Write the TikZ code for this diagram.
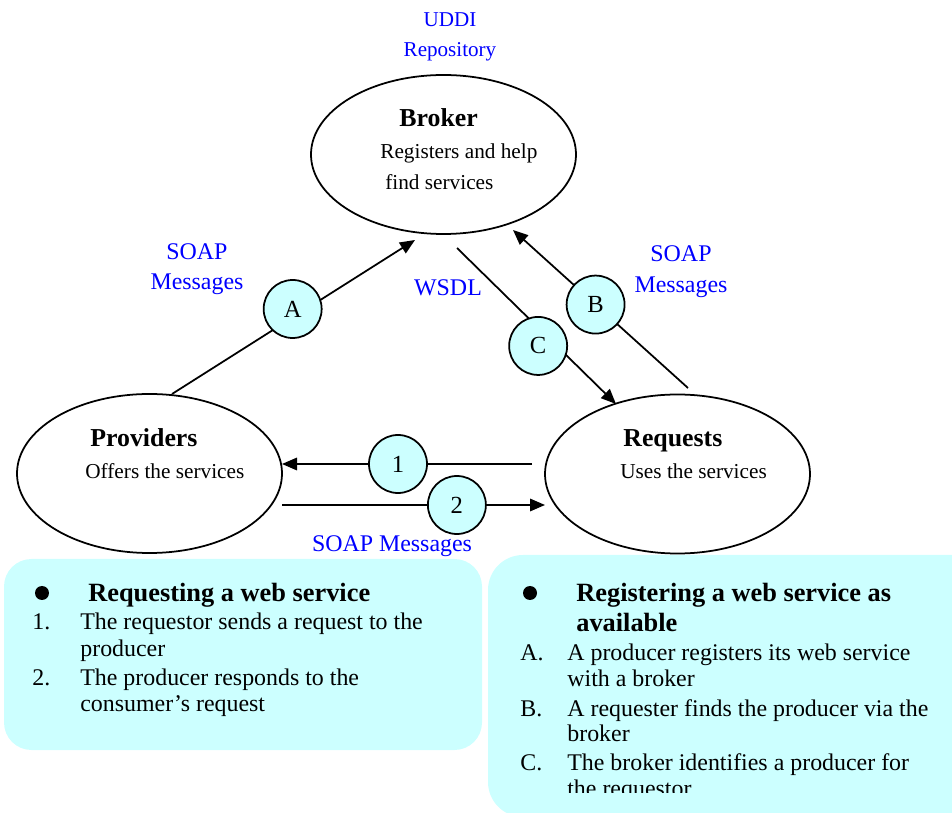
\documentclass[tikz,border=0pt]{standalone}
\usepackage{fontspec}
\setmainfont{Liberation Serif}
\usetikzlibrary{arrows.meta,shapes.geometric}
\definecolor{paleblue}{RGB}{204,255,255}

\tikzset{
  party/.style={draw, ellipse, line width=1pt, minimum width=5.3cm, minimum height=3.18cm, inner sep=0pt},
  stepmark/.style={draw, circle, fill=paleblue, line width=1pt, minimum size=1.16cm, inner sep=0pt, font=\fontsize{14}{16}\selectfont},
  flow/.style={line width=1pt, -{Triangle[length=0.3cm,width=0.25cm]}},
  msg/.style={text=blue, inner sep=0pt, font=\fontsize{13.6}{16}\selectfont},
  repo/.style={text=blue, inner sep=0pt, font=\fontsize{12}{14}\selectfont},
  partyname/.style={anchor=base west, inner sep=0pt, font=\fontsize{14.7}{17}\selectfont\bfseries},
  partytext/.style={anchor=base west, inner sep=0pt, font=\fontsize{12.1}{14}\selectfont},
  listhead/.style={anchor=base west, inner sep=0pt, font=\fontsize{15}{18}\selectfont\bfseries},
  listitem/.style={anchor=base west, inner sep=0pt, font=\fontsize{13.6}{16}\selectfont},
  dot/.style={circle, fill=black, minimum size=0.28cm, inner sep=0pt}
}

\begin{document}
\begin{tikzpicture}
    \useasboundingbox (0,0) rectangle (19.04,16.24);
    \clip (0,0) rectangle (19.04,16.24);

    % Info boxes
    \fill[paleblue, rounded corners=0.55cm] (0.08,1.24) rectangle (9.64,5.06);
    \fill[paleblue, rounded corners=0.7cm] (9.76,-0.1) rectangle (19.8,5.14);

    % Parties
    \node[party] (broker) at (8.87,13.15) {};
    \node[party] (prov) at (2.99,6.77) {};
    \node[party] (req) at (13.55,6.76) {};

    \node[partyname] (brokerName) at (7.98,13.70) {Broker};
    \node[partytext] (brokerText1) at (7.60,13.06) {Registers and help};
    \node[partytext] (brokerText2) at (7.70,12.44) {find services};
    \node[partyname] (provName) at (1.80,7.30) {Providers};
    \node[partytext] (provText) at (1.70,6.68) {Offers the services};
    \node[partyname] (reqName) at (12.46,7.30) {Requests};
    \node[partytext] (reqText) at (12.40,6.68) {Uses the services};

    % Labels
    \node[repo] (uddi) at (9.0,15.84) {UDDI};
    \node[repo] (repository) at (9.0,15.20) {Repository};
    \node[msg] (soapA) at (3.94,11.20) {SOAP};
    \node[msg] (msgA) at (3.94,10.56) {Messages};
    \node[msg] (soapB) at (13.62,11.16) {SOAP};
    \node[msg] (msgB) at (13.62,10.50) {Messages};
    \node[msg] (wsdl) at (8.96,10.48) {WSDL};
    \node[msg] (soapBottom) at (7.84,5.32) {SOAP Messages};

    % Registering: A, B, C
    \coordinate (a1) at (3.44,8.36);
    \coordinate (a2) at (8.30,11.44);
    \draw[flow] (a1) -- node[stepmark, pos=0.513, xshift=-0.08cm, yshift=0.12cm] (cA) {A} (a2);
    \coordinate (b1) at (13.76,8.48);
    \coordinate (b2) at (10.26,11.64);
    \draw[flow] (b1) -- node[stepmark, pos=0.528] (cB) {B} (b2);
    \coordinate (c1) at (9.14,11.28);
    \coordinate (c2) at (12.32,8.16);
    \draw[flow] (c1) -- node[stepmark, pos=0.567, xshift=-0.18cm, yshift=-0.19cm] (cC) {C} (c2);

    % Requesting: 1, 2
    \coordinate (r1) at (10.64,6.96);
    \coordinate (r2) at (5.64,6.96);
    \draw[flow] (r1) -- node[stepmark, pos=0.536] (c1n) {1} (r2);
    \coordinate (s1) at (5.64,6.14);
    \coordinate (s2) at (10.90,6.14);
    \draw[flow] (s1) -- node[stepmark, pos=0.665] (c2n) {2} (s2);

    % Left list
    \node[dot] (dotL) at (0.84,4.38) {};
    \node[listhead] (headL) at (1.76,4.21) {Requesting a web service};
    \node[listitem] (numL1) at (0.64,3.65) {1.};
    \node[listitem] (itemL1) at (1.60,3.65) {The requestor sends a request to the};
    \node[listitem] (itemL1b) at (1.60,3.12) {producer};
    \node[listitem] (numL2) at (0.64,2.54) {2.};
    \node[listitem] (itemL2) at (1.60,2.54) {The producer responds to the};
    \node[listitem] (itemL2b) at (1.60,2.01) {consumer’s request};

    % Right list
    \node[dot] (dotR) at (10.60,4.38) {};
    \node[listhead] (headR) at (11.52,4.21) {Registering a web service as};
    \node[listhead] (headRb) at (11.52,3.62) {available};
    \node[listitem] (numRA) at (10.40,3.04) {A.};
    \node[listitem] (itemRA) at (11.34,3.04) {A producer registers its web service};
    \node[listitem] (itemRAb) at (11.34,2.51) {with a broker};
    \node[listitem] (numRB) at (10.40,1.92) {B.};
    \node[listitem] (itemRB) at (11.34,1.92) {A requester finds the producer via the};
    \node[listitem] (itemRBb) at (11.34,1.41) {broker};
    \node[listitem] (numRC) at (10.40,0.84) {C.};
    \node[listitem] (itemRC) at (11.34,0.84) {The broker identifies a producer for};
    \begin{scope}
        \clip (9.76,0.40) rectangle (19.04,1.0);
        \node[listitem] (itemRCb) at (11.34,0.31) {the requestor};
    \end{scope}
\end{tikzpicture}
\end{document}
